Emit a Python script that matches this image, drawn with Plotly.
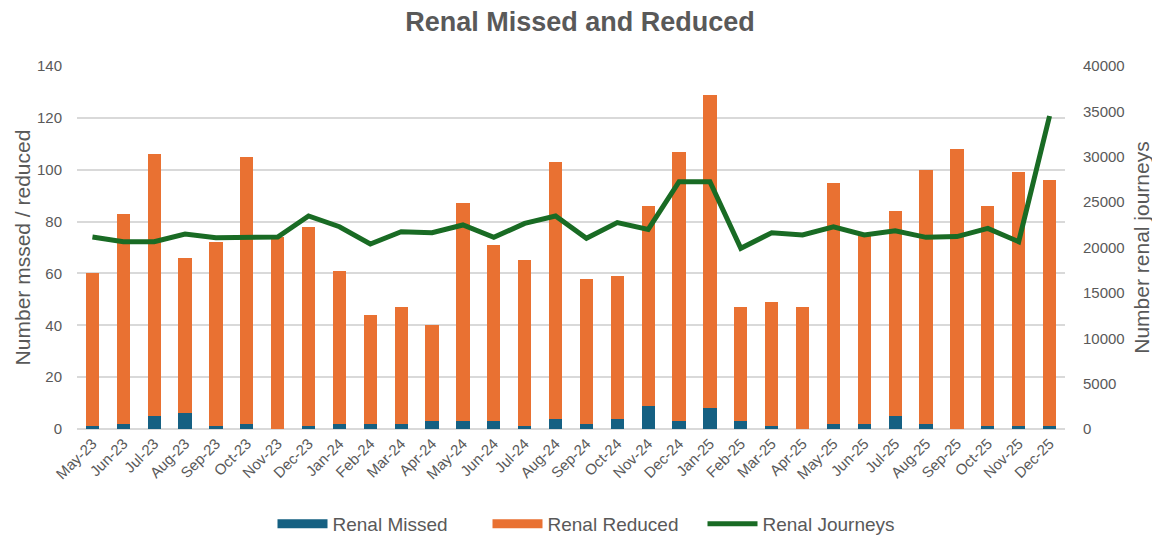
import plotly.graph_objects as go

months = ["May-23","Jun-23","Jul-23","Aug-23","Sep-23","Oct-23","Nov-23","Dec-23",
          "Jan-24","Feb-24","Mar-24","Apr-24","May-24","Jun-24","Jul-24","Aug-24",
          "Sep-24","Oct-24","Nov-24","Dec-24","Jan-25","Feb-25","Mar-25","Apr-25",
          "May-25","Jun-25","Jul-25","Aug-25","Sep-25","Oct-25","Nov-25","Dec-25"]

renal_missed = [1,2,5,6,1,2,0,1, 2,2,2,3,3,3,1,4, 2,4,9,3,8,3,1,0, 2,2,5,2,0,1,1,1]
renal_total = [60,83,106,66,72,105,74,78, 61,44,47,40,87,71,65,103,
               58,59,86,107,129,47,49,47, 95,75,84,100,108,86,99,96]
renal_reduced = [t - m for t, m in zip(renal_total, renal_missed)]
renal_journeys = [21150,20640,20640,21490,21080,21150,21150,23470,
                  22290,20390,21740,21630,22480,21120,22660,23470,
                  21010,22740,22000,27250,27250,19910,21630,21380,
                  22290,21380,21850,21120,21200,22110,20640,34490]

left_ticks = [0,20,40,60,80,100,120,140]
right_ticks = [0,5000,10000,15000,20000,25000,30000,35000,40000]
right_tick_labels = [str(v) for v in right_ticks]

GRAY = "#595959"
BLUE = "#156082"
ORANGE = "#E97132"
GREEN = "#196B24"
FONT = "Liberation Sans, Arial, sans-serif"
W, H = 1152, 533

fig = go.Figure()
fig.add_trace(go.Bar(x=months, y=renal_missed, name="Renal Missed",
                     legendgroup="m", showlegend=False,
                     marker=dict(color=BLUE, line=dict(width=0))))
fig.add_trace(go.Bar(x=months, y=renal_reduced, name="Renal Reduced",
                     legendgroup="r", showlegend=False,
                     marker=dict(color=ORANGE, line=dict(width=0))))
fig.add_trace(go.Scatter(x=months, y=renal_journeys, name="Renal Journeys",
                         mode="lines", yaxis="y2", legendgroup="j", showlegend=False,
                         line=dict(color=GREEN, width=5)))
# legend keys (wide rectangles like the original)
fig.add_trace(go.Scatter(x=[None], y=[None], name="Renal Missed", mode="lines",
                         legendgroup="m", line=dict(color=BLUE, width=9)))
fig.add_trace(go.Scatter(x=[None], y=[None], name="Renal Reduced", mode="lines",
                         legendgroup="r", line=dict(color=ORANGE, width=9)))
fig.add_trace(go.Scatter(x=[None], y=[None], name="Renal Journeys", mode="lines",
                         legendgroup="j", line=dict(color=GREEN, width=5)))

fig.update_layout(
    width=W, height=H,
    barmode="stack", bargap=0.57,
    plot_bgcolor="white", paper_bgcolor="white",
    font=dict(family=FONT, color=GRAY, size=15),
    title=dict(text="<b>Renal Missed and Reduced</b>", x=(580 - 8) / W, xanchor="center",
               xref="container", yref="container", y=1 - 4 / H, yanchor="top",
               font=dict(size=27, color=GRAY, family=FONT)),
    margin=dict(l=69, r=95, t=58, b=112),
    xaxis=dict(tickangle=-45, tickfont=dict(size=15, color=GRAY),
               showgrid=False, showline=False, ticks="", automargin=False,
               ticklabelstandoff=2),
    yaxis=dict(range=[0,140], tickvals=left_ticks, showgrid=True,
               gridcolor="#D9D9D9", gridwidth=1.5, zeroline=True,
               zerolinecolor="#D9D9D9", zerolinewidth=1.5,
               tickfont=dict(size=15, color=GRAY), automargin=False,
               title=dict(text="Number mssed / reduced", font=dict(size=21, color=GRAY),
                          standoff=0),
               ticklabelstandoff=14),
    yaxis2=dict(range=[0,40000], tickvals=right_ticks, ticktext=right_tick_labels,
                overlaying="y", side="right",
                showgrid=False, zeroline=False, automargin=False,
                tickfont=dict(size=15, color=GRAY),
                title=dict(text="Number renal journeys", font=dict(size=21, color=GRAY),
                           standoff=10),
                ticklabelstandoff=17),
    legend=dict(orientation="h", x=(595 - 8) / W, xanchor="center", xref="container",
                yref="container", y=(H - 516) / H, yanchor="middle",
                font=dict(size=19, color=GRAY), traceorder="normal",
                itemwidth=50, entrywidth=150),
)

fig.write_html("out.html")
